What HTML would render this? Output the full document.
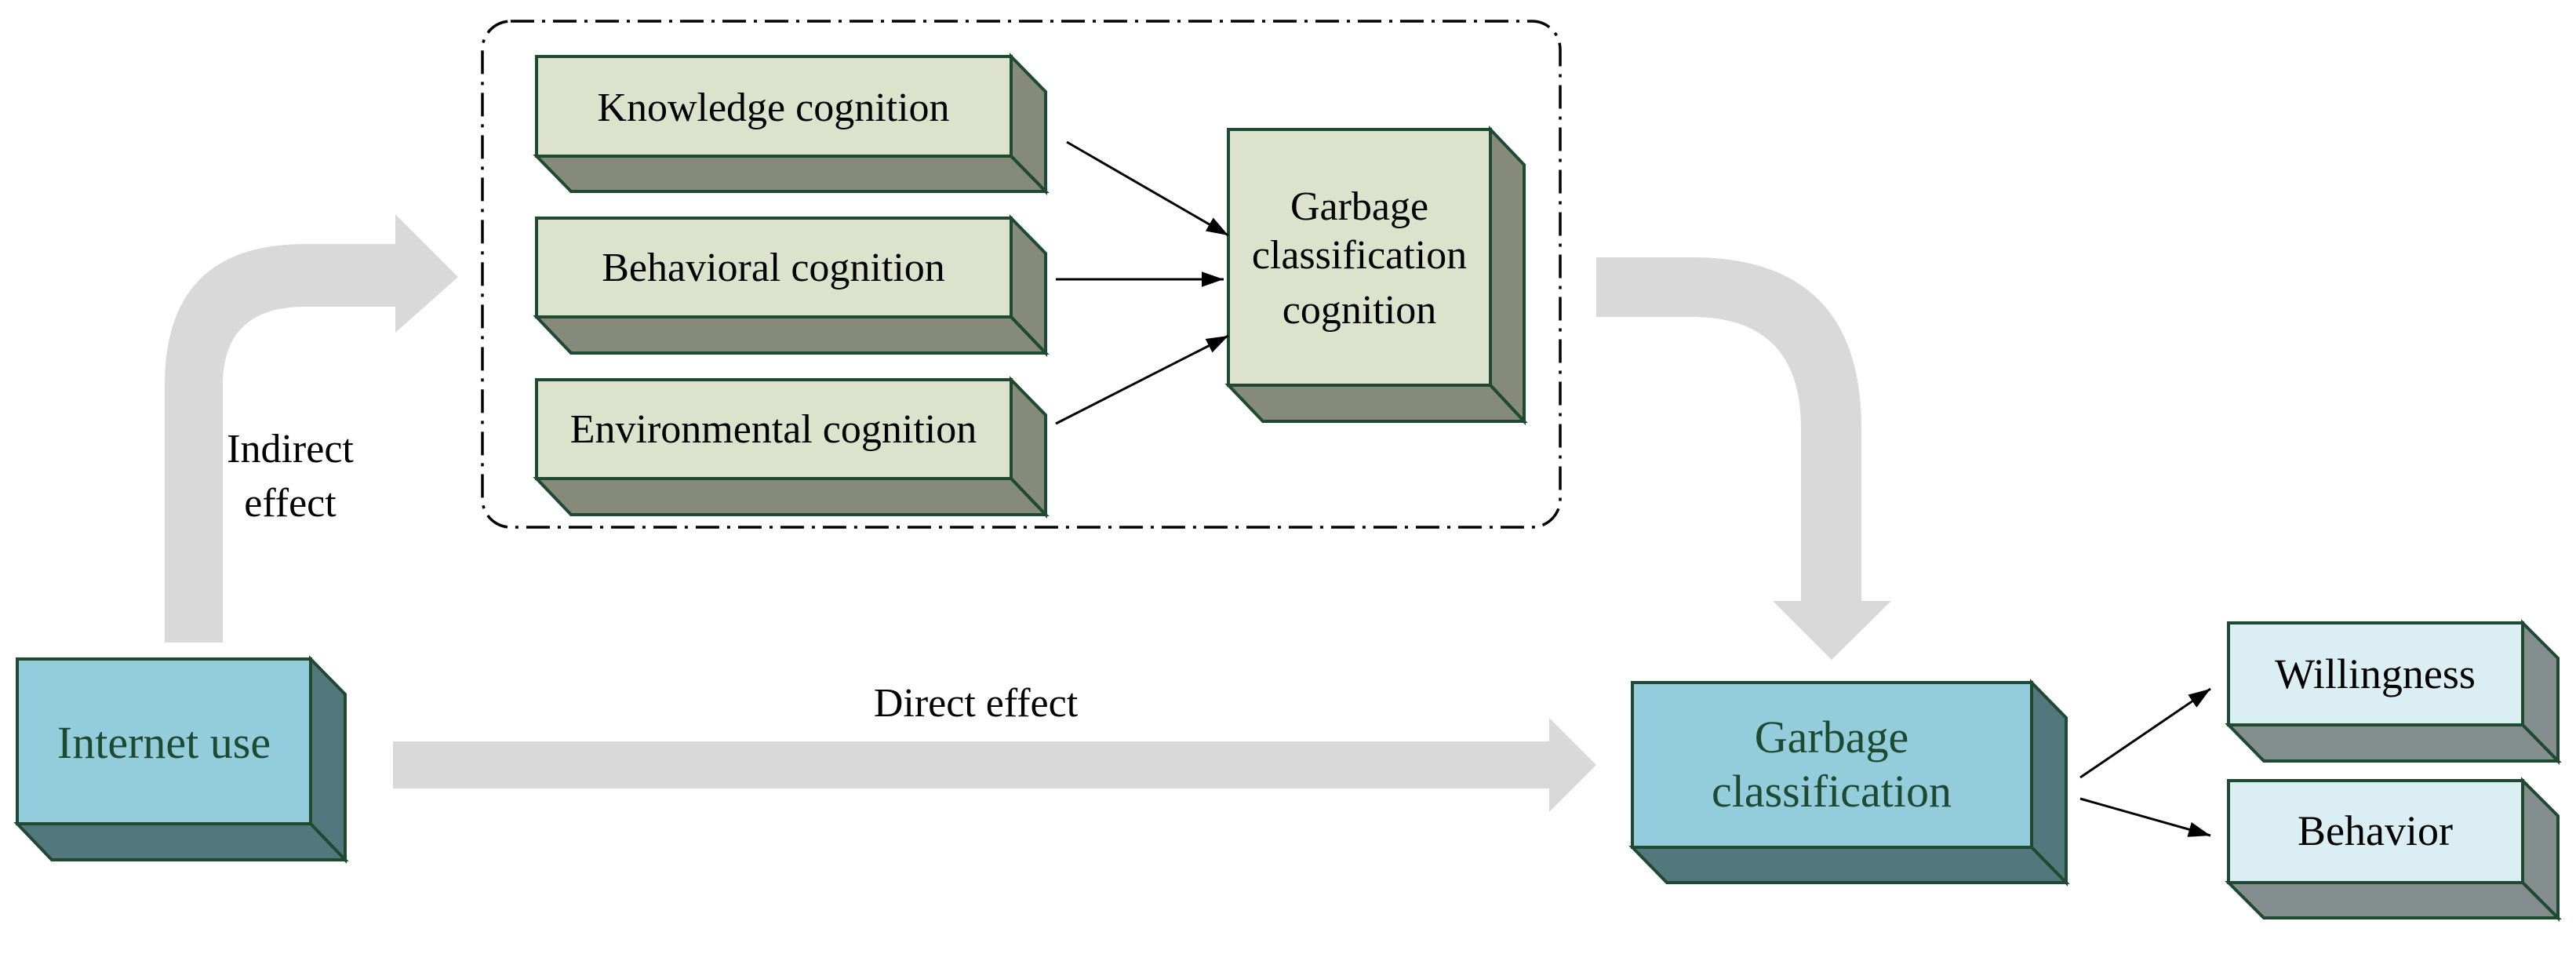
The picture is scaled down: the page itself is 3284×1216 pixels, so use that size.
<!DOCTYPE html>
<html><head><meta charset="utf-8"><style>
html,body{margin:0;padding:0;background:#fff}
svg{display:block}
text{font-family:"Liberation Serif",serif;}
</style></head><body>
<svg width="3284" height="1216" viewBox="0 0 3284 1216" xmlns="http://www.w3.org/2000/svg">
<defs>
<marker id="a" viewBox="0 0 10 10" refX="10" refY="5" markerWidth="28" markerHeight="28" markerUnits="userSpaceOnUse" orient="auto"><path d="M0,1.5 L10,5 L0,8.5 z" fill="#000"/></marker>
</defs>

<path d="M210,819 L210,491 Q210,311 389,311 L504,311 L504,273 L584,353 L504,424 L504,391 L389,391 Q284,391 284,491 L284,819 Z" fill="#d9d9d9"/>
<path d="M2035,328 L2157,328 Q2373,328 2373,546 L2373,766 L2411,766 L2335,841 L2260,766 L2296,766 L2296,546 Q2296,404 2157,404 L2035,404 Z" fill="#d9d9d9"/>
<path d="M501,945 L1975,945 L1975,915 L2035,975 L1975,1035 L1975,1005 L501,1005 Z" fill="#d9d9d9"/>

<rect x="615" y="27" width="1374" height="645" rx="36" fill="none" stroke="#000" stroke-width="3.5" stroke-dasharray="30,10,4,10"/>

<g stroke="#1e4a32" stroke-width="4" stroke-linejoin="miter">
<polygon points="1289,72 1333,117 1333,244 1289,199" fill="#858a7a"/>
<polygon points="684,199 1289,199 1333,244 728,244" fill="#858a7a"/>
<rect x="684" y="72" width="605" height="127" fill="#dde2cc"/>
<polygon points="1289,278 1333,323 1333,450 1289,404" fill="#858a7a"/>
<polygon points="684,404 1289,404 1333,450 728,450" fill="#858a7a"/>
<rect x="684" y="278" width="605" height="126" fill="#dde2cc"/>
<polygon points="1289,484 1333,529 1333,656 1289,610" fill="#858a7a"/>
<polygon points="684,610 1289,610 1333,656 728,656" fill="#858a7a"/>
<rect x="684" y="484" width="605" height="126" fill="#dde2cc"/>
<polygon points="1900,165 1943,210 1943,537 1900,491" fill="#858a7a"/>
<polygon points="1566,491 1900,491 1943,537 1610,537" fill="#858a7a"/>
<rect x="1566" y="165" width="334" height="326" fill="#dde2cc"/>
<polygon points="396,840 440,885 440,1096 396,1050" fill="#52787e"/>
<polygon points="22,1050 396,1050 440,1096 66,1096" fill="#52787e"/>
<rect x="22" y="840" width="374" height="210" fill="#93cddb"/>
<polygon points="2590,870 2634,915 2634,1125 2590,1080" fill="#52787e"/>
<polygon points="2081,1080 2590,1080 2634,1125 2125,1125" fill="#52787e"/>
<rect x="2081" y="870" width="509" height="210" fill="#93cddb"/>
<polygon points="3216,794 3261,839 3261,970 3216,924" fill="#858e8e"/>
<polygon points="2841,924 3216,924 3261,970 2886,970" fill="#858e8e"/>
<rect x="2841" y="794" width="375" height="130" fill="#dbeef3"/>
<polygon points="3216,995 3261,1040 3261,1170 3216,1125" fill="#858e8e"/>
<polygon points="2841,1125 3216,1125 3261,1170 2886,1170" fill="#858e8e"/>
<rect x="2841" y="995" width="375" height="130" fill="#dbeef3"/>
</g>

<g stroke="#000" stroke-width="3" marker-end="url(#a)">
<line x1="1360" y1="181" x2="1566" y2="300"/>
<line x1="1346" y1="356" x2="1560" y2="356"/>
<line x1="1346" y1="540" x2="1566" y2="428"/>
<line x1="2652" y1="991" x2="2818" y2="878"/>
<line x1="2652" y1="1018" x2="2818" y2="1065"/>
</g>

<g font-size="52" text-anchor="middle" fill="#000">
<text x="986" y="154">Knowledge cognition</text>
<text x="986" y="358">Behavioral cognition</text>
<text x="986" y="564">Environmental cognition</text>
<text x="1733" y="280">Garbage</text>
<text x="1733" y="342">classification</text>
<text x="1733" y="412">cognition</text>
<text x="370" y="589">Indirect</text>
<text x="370" y="658">effect</text>
<text x="1244" y="913">Direct effect</text>
<text x="3028" y="877" font-size="54">Willingness</text>
<text x="3028" y="1077" font-size="54">Behavior</text>
</g>
<g font-size="58" text-anchor="middle" fill="#1e4a32">
<text x="209" y="966">Internet use</text>
<text x="2335" y="959">Garbage</text>
<text x="2335" y="1028">classification</text>
</g>
</svg>
</body></html>
